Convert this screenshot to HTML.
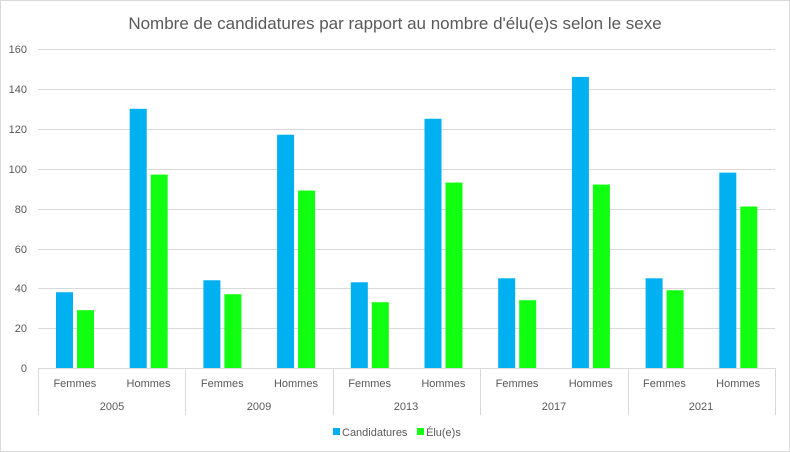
<!DOCTYPE html>
<html><head><meta charset="utf-8"><style>
html,body{margin:0;padding:0;background:#fff;}
svg{display:block;font-family:"Liberation Sans",sans-serif;}
</style></head><body>
<svg width="790" height="452" viewBox="0 0 790 452" xmlns="http://www.w3.org/2000/svg">
<rect x="0.5" y="0.5" width="789" height="451" fill="#fff" stroke="#d9d9d9"/>
<text x="395" y="29" text-anchor="middle" font-size="17" fill="#595959">Nombre de candidatures par rapport au nombre d'élu(e)s selon le sexe</text>
<g stroke="#d9d9d9" stroke-width="1">
<line x1="38" x2="775" y1="49.5" y2="49.5"/>
<line x1="38" x2="775" y1="89.5" y2="89.5"/>
<line x1="38" x2="775" y1="129.5" y2="129.5"/>
<line x1="38" x2="775" y1="169.5" y2="169.5"/>
<line x1="38" x2="775" y1="209.5" y2="209.5"/>
<line x1="38" x2="775" y1="249.5" y2="249.5"/>
<line x1="38" x2="775" y1="288.5" y2="288.5"/>
<line x1="38" x2="775" y1="328.5" y2="328.5"/>
<line x1="38" x2="775" y1="368.5" y2="368.5"/>
<line x1="38.5" x2="38.5" y1="368" y2="415"/>
<line x1="185.5" x2="185.5" y1="368" y2="415"/>
<line x1="333.5" x2="333.5" y1="368" y2="415"/>
<line x1="480.5" x2="480.5" y1="368" y2="415"/>
<line x1="628.5" x2="628.5" y1="368" y2="415"/>
<line x1="775.5" x2="775.5" y1="368" y2="415"/>
</g>
<g font-size="11" fill="#595959" text-anchor="end">
<text x="27" y="53">160</text><text x="27" y="93">140</text><text x="27" y="133">120</text>
<text x="27" y="173">100</text><text x="27" y="213">80</text><text x="27" y="253">60</text>
<text x="27" y="292">40</text><text x="27" y="332">20</text><text x="27" y="372">0</text>
</g>
<g id="bars"></g>
<script>
var vals=[[38,29],[130,97],[44,37],[117,89],[43,33],[125,93],[45,34],[146,92],[45,39],[98,81]];
var g=document.getElementById('bars'),ns='http://www.w3.org/2000/svg',cw=73.7,k=319/160;
vals.forEach(function(v,i){var x0=38+i*cw;
[[v[0],18,'#00B0F0'],[v[1],39,'#11FF11']].forEach(function(b){var r=document.createElementNS(ns,'rect');var h=b[0]*k;
r.setAttribute('x',x0+b[1]);r.setAttribute('y',368-h);r.setAttribute('width',17);r.setAttribute('height',h);r.setAttribute('fill',b[2]);g.appendChild(r);});
var t=document.createElementNS(ns,'text');t.setAttribute('x',x0+cw/2);t.setAttribute('y',387);t.setAttribute('text-anchor','middle');t.setAttribute('font-size','11');t.setAttribute('fill','#595959');t.textContent=i%2?'Hommes':'Femmes';g.appendChild(t);});
</script>
<g font-size="11" fill="#595959" text-anchor="middle">
<text x="112" y="410">2005</text><text x="259" y="410">2009</text><text x="406" y="410">2013</text>
<text x="554" y="410">2017</text><text x="701" y="410">2021</text>
</g>
<rect x="333" y="428" width="7" height="7" fill="#00B0F0"/>
<text x="342" y="436" font-size="11" fill="#595959">Candidatures</text>
<rect x="417" y="428" width="7" height="7" fill="#11FF11"/>
<text x="426" y="436" font-size="11" fill="#595959">Élu(e)s</text>
</svg>
</body></html>
